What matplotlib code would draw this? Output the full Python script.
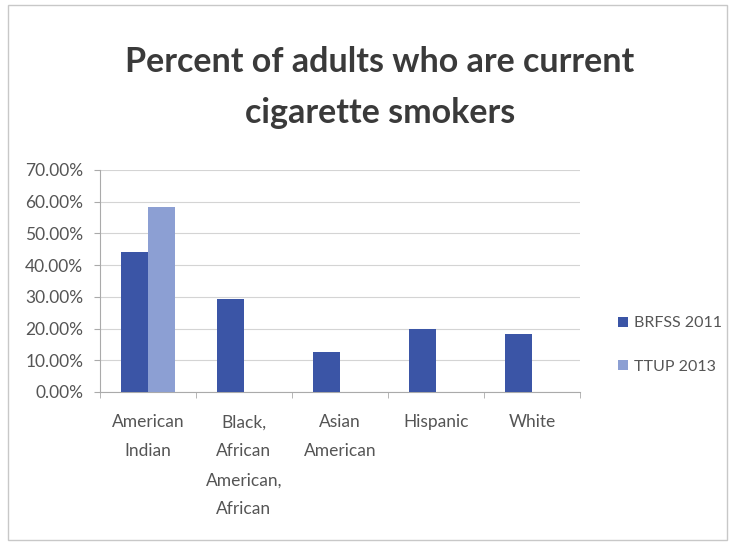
import numpy as np
import matplotlib.pyplot as plt
from matplotlib.patches import Rectangle
from matplotlib.ticker import FuncFormatter

categories = ["American\nIndian", "Black,\nAfrican\nAmerican,\nAfrican", "Asian\nAmerican", "Hispanic", "White"]
brfss_2011 = [44.2, 29.3, 12.6, 19.9, 18.3]
ttup_2013 = [58.4, 0, 0, 0, 0]
series_names = ["BRFSS 2011", "TTUP 2013"]

dark = "#3b55a6"
light = "#8c9fd3"
txt = "#555555"
plt.rcParams['font.family'] = ['Lato', 'DejaVu Sans']

fig = plt.figure(figsize=(7.35, 5.45), dpi=100)
fig.patch.set_facecolor("white")
fig.patches.append(Rectangle((8/735, 5/545), 719/735, 535/545, transform=fig.transFigure,
                             fill=False, edgecolor="#c8c8c8", lw=1))

# plot area in pixels: x 100..580, y 170..392
ax = fig.add_axes([100/735, (545-392)/545, 480/735, 222/545])

x = np.arange(len(categories))
w = 0.28
ax.bar(x - w/2, brfss_2011, w, color=dark, label=series_names[0], zorder=3)
ttup_x = [xi + w/2 for xi, v in zip(x, ttup_2013) if v > 0]
ttup_v = [v for v in ttup_2013 if v > 0]
ax.bar(ttup_x, ttup_v, w, color=light, label=series_names[1], zorder=3)

ax.set_xlim(-0.5, len(categories) - 0.5)
ax.set_ylim(0, 70)
ax.set_yticks(np.arange(0, 71, 10))
ax.yaxis.set_major_formatter(FuncFormatter(lambda v, p: f"{v:.2f}%"))
ax.grid(axis="y", color="#d4d4d4", lw=0.8, zorder=0)
ax.set_xticks(x)
ax.set_xticklabels(categories, fontsize=12.5, color=txt, linespacing=2.0, va="top")
ax.set_xticks(np.arange(-0.5, len(categories)), minor=True)
ax.tick_params(axis="x", which="major", length=0, pad=16)
ax.tick_params(axis="x", which="minor", length=4, color="#aaaaaa")
ax.tick_params(axis="y", length=4, color="#aaaaaa", labelsize=12.5, labelcolor=txt, pad=8)
for s in ["top", "right"]:
    ax.spines[s].set_visible(False)
ax.spines["left"].set_color("#aaaaaa")
ax.spines["bottom"].set_color("#aaaaaa")

fig.text(380/735, 1 - 62/545, "Percent of adults who are current", ha="center", va="center",
         fontsize=24.5, fontweight="bold", color="#3a3a3a")
fig.text(380/735, 1 - 113/545, "cigarette smokers", ha="center", va="center",
         fontsize=24.5, fontweight="bold", color="#3a3a3a")

leg = fig.legend(loc="center left", bbox_to_anchor=(604/735, 1 - 345/545), frameon=False,
                 fontsize=11.5, handlelength=0.6, handleheight=0.6, handletextpad=0.4,
                 labelspacing=1.85, labelcolor=txt)

fig.savefig("out.png", dpi=100)
